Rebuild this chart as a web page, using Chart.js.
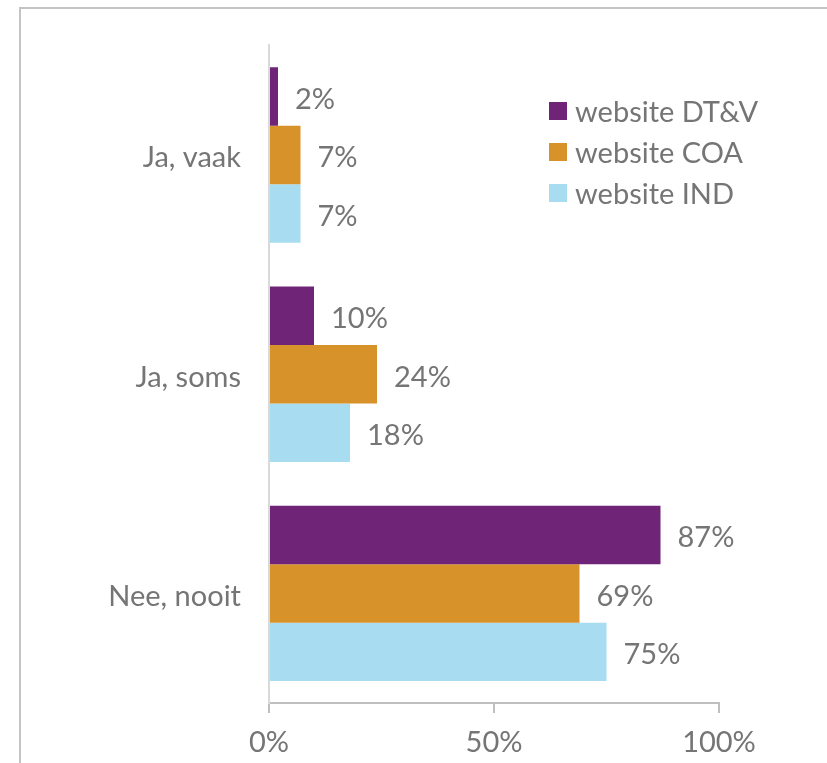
<!DOCTYPE html>
<html>
<head>
<meta charset="utf-8">
<script src="https://cdn.jsdelivr.net/npm/chart.js@4"></script>
<style>
  body { margin: 0; background: #fff; }
  #wrap { width: 827px; height: 763px; }
</style>
</head>
<body>
<div id="wrap"><canvas id="myBarChart" width="827" height="763"></canvas></div>
<script>
const categories = ['Ja, vaak', 'Ja, soms', 'Nee, nooit'];
const seriesNames = ['website DT&V', 'website COA', 'website IND'];
const dtv = [2, 10, 87];
const coa = [7, 24, 69];
const ind = [7, 18, 75];
const tickValues = [0, 50, 100];

const colors = ['#702477', '#d8922a', '#a8dcf0'];
const textColor = '#757575';
const font = 'Lato, "Noto Sans", sans-serif';
const fontSize = 29;

// value labels next to each bar
const valueLabels = {
  id: 'valueLabels',
  afterDatasetsDraw(chart) {
    const ctx = chart.ctx;
    ctx.save();
    ctx.font = `${fontSize}px ${font}`;
    ctx.fillStyle = textColor;
    ctx.textAlign = 'left';
    ctx.textBaseline = 'middle';
    chart.data.datasets.forEach((ds, i) => {
      chart.getDatasetMeta(i).data.forEach((bar, j) => {
        ctx.fillText(ds.data[j] + '%', bar.x + 17, bar.y + 3);
      });
    });
    ctx.restore();
  }
};

// legend drawn inside the plot, plus the outer frame lines
const innerLegend = {
  id: 'innerLegend',
  afterDraw(chart) {
    const ctx = chart.ctx;
    ctx.save();
    ctx.strokeStyle = '#c4c4c4';
    ctx.lineWidth = 2;
    ctx.beginPath();
    ctx.moveTo(20, 763);
    ctx.lineTo(20, 8);
    ctx.lineTo(827, 8);
    ctx.stroke();

    ctx.font = `${fontSize}px ${font}`;
    ctx.textBaseline = 'middle';
    chart.data.datasets.forEach((ds, i) => {
      const y = 111 + i * 41;
      ctx.fillStyle = ds.backgroundColor;
      ctx.fillRect(549, y - 9, 18, 18);
      ctx.fillStyle = textColor;
      ctx.fillText(ds.label, 575, y + 2);
    });
    ctx.restore();
  }
};

const ctx = document.getElementById('myBarChart').getContext('2d');
const myBarChart = new Chart(ctx, {
  type: 'bar',
  data: {
    labels: categories,
    datasets: [
      { label: seriesNames[0], data: dtv, backgroundColor: colors[0] },
      { label: seriesNames[1], data: coa, backgroundColor: colors[1] },
      { label: seriesNames[2], data: ind, backgroundColor: colors[2] }
    ]
  },
  options: {
    indexAxis: 'y',
    responsive: false,
    animation: false,
    layout: { padding: { top: 40, right: 108, left: 0, bottom: 0 } },
    datasets: { bar: { categoryPercentage: 0.8, barPercentage: 1.0 } },
    plugins: {
      legend: { display: false },
      tooltip: { enabled: false }
    },
    scales: {
      x: {
        min: 0,
        max: 100,
        afterBuildTicks: (scale) => { scale.ticks = tickValues.map(v => ({ value: v })); },
        afterFit: (scale) => { scale.height = 60; },
        grid: { drawOnChartArea: false, drawTicks: true, tickLength: 10, color: '#bfbfbf', lineWidth: 2 },
        border: { display: true, color: '#bfbfbf', width: 2 },
        ticks: {
          callback: (v) => v + '%',
          color: textColor,
          padding: 12,
          maxRotation: 0,
          font: { family: font, size: fontSize }
        }
      },
      y: {
        afterFit: (scale) => { scale.width = 269; },
        grid: { display: false, drawTicks: false },
        border: { display: true, color: '#d9d9d9', width: 2 },
        ticks: {
          color: textColor,
          padding: 28,
          labelOffset: 3,
          font: { family: font, size: fontSize }
        }
      }
    }
  },
  plugins: [valueLabels, innerLegend]
});
</script>
</body>
</html>
